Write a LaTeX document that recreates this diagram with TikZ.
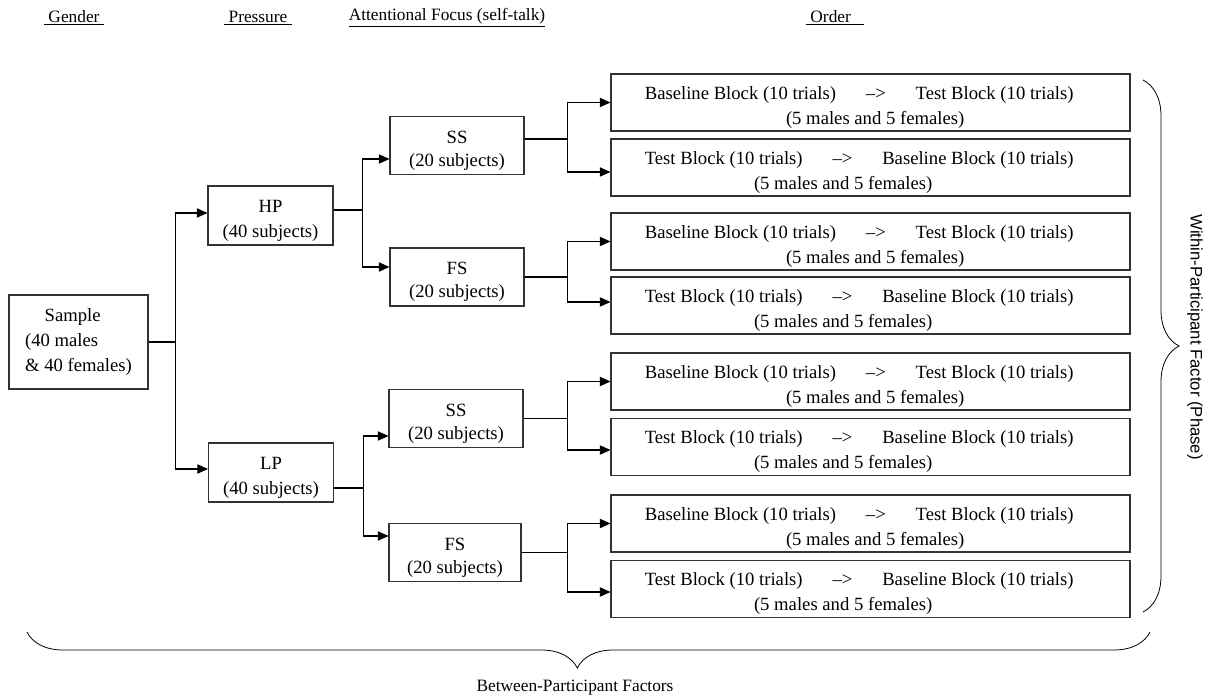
\documentclass[tikz,border=0pt]{standalone}
\usepackage{fontspec}
\setmainfont{Liberation Serif}
\newfontfamily\sidefont{Liberation Sans}
\usepackage{tikz}
\usetikzlibrary{arrows.meta,calc,decorations.pathreplacing}

\newcommand{\padtop}{\rule{0pt}{17pt}}
\newcommand{\btorder}{\padtop Baseline Block (10 trials)\hspace{1.6em}--{}>\hspace{1.6em}Test Block (10 trials)\hspace{17pt}\null\\\hspace*{7pt}(5 males and 5 females)}
\newcommand{\tborder}{\padtop Test Block (10 trials)\hspace{1.6em}--{}>\hspace{1.6em}Baseline Block (10 trials)\hspace{17pt}\null\\(5 males and 5 females)\hspace{41pt}\null}

\begin{document}
\begin{tikzpicture}[x=0.75pt,y=-0.75pt,
  box/.style={draw=black!80,line width=0.8pt,inner sep=1pt,align=center,font=\fontsize{14pt}{18.75pt}\selectfont},
  groupbox/.style={box,font=\fontsize{14pt}{17.25pt}\selectfont,minimum width=100.5pt,minimum height=43.5pt},
  pressbox/.style={box,minimum width=93.75pt,minimum height=44.25pt},
  orderbox/.style={box,minimum width=389.25pt,minimum height=42.75pt},
  head/.style={font=\fontsize{13pt}{15pt}\selectfont},
  link/.style={line width=0.8pt},
  arr/.style={link,-{Triangle[length=8pt,width=7pt]}}]

\useasboundingbox (0,0) rectangle (1211,698);

% column headings
\node[head] (hgender) at (74,18) {\underline{\ Gender\ }};
\node[head] (hpressure) at (258,18) {\underline{\ Pressure\ }};
\node[head] (hfocus) at (447,18) {\underline{Attentional Focus (self-talk)}};
\node[head] (horder) at (835,18) {\underline{\ Order\ \ \ }};

% between-participant groups
\node[box,minimum width=104.25pt,minimum height=70.5pt,align=left] (sample) at (78.5,342) {\hspace*{1.05em}Sample\\(40 males\\\& 40 females)};
\node[pressbox] (hp) at (270.5,215.5) {\padtop HP\\(40 subjects)};
\node[pressbox] (lp) at (271,472.5) {\padtop LP\\(40 subjects)};
\node[groupbox] (ss1) at (457,145.5) {\padtop SS\\(20 subjects)};
\node[groupbox] (fs1) at (457,277) {\padtop FS\\(20 subjects)};
\node[groupbox] (ss2) at (456,418.5) {\padtop SS\\(20 subjects)};
\node[groupbox,minimum width=99pt] (fs2) at (455,552.5) {\padtop FS\\(20 subjects)};

% block order
\node[orderbox] (o1) at (870.5,102.5) {\btorder};
\node[orderbox] (o2) at (870.5,167.5) {\tborder};
\node[orderbox] (o3) at (870.5,241.5) {\btorder};
\node[orderbox] (o4) at (870.5,305.5) {\tborder};
\node[orderbox] (o5) at (870.5,381.5) {\btorder};
\node[orderbox] (o6) at (870.5,447) {\tborder};
\node[orderbox] (o7) at (870.5,523.5) {\btorder};
\node[orderbox] (o8) at (870.5,589) {\tborder};

% connectors
\draw[link] (sample.east) -- ++(27,0) coordinate (f0);
\draw[arr] (f0) |- ($(hp.west)+(0,-2.5)$);
\draw[arr] (f0) |- ($(lp.west)+(0,-3.5)$);

\draw[link] ($(hp.east)+(0,-5.5)$) -- ++(29,0) coordinate (f1);
\draw[arr] (f1) |- ($(ss1.west)+(0,13.5)$);
\draw[arr] (f1) |- ($(fs1.west)+(0,-10)$);

\draw[link] ($(lp.east)+(0,15.5)$) -- ++(29,0) coordinate (f2);
\draw[arr] (f2) |- ($(ss2.west)+(0,17.5)$);
\draw[arr] (f2) |- ($(fs2.west)+(0,-16.5)$);

\draw[link] ($(ss1.east)+(0,-6.5)$) -- ++(43,0) coordinate (f3);
\draw[arr] (f3) |- (o1.west);
\draw[arr] (f3) |- ($(o2.west)+(0,4.5)$);

\draw[link] (fs1.east) -- ++(43,0) coordinate (f4);
\draw[arr] (f4) |- (o3.west);
\draw[arr] (f4) |- ($(o4.west)+(0,-3.5)$);

\draw[link] (ss2.east) -- ++(44,0) coordinate (f5);
\draw[arr] (f5) |- (o5.west);
\draw[arr] (f5) |- ($(o6.west)+(0,3)$);

\draw[link] (fs2.east) -- ++(46,0) coordinate (f6);
\draw[arr] (f6) |- (o7.west);
\draw[arr] (f6) |- ($(o8.west)+(0,3)$);

% braces
\coordinate (wtop) at (1143,80);
\coordinate (wbot) at (1143,612);
\draw[line width=0.6pt,decorate,decoration={brace,amplitude=27pt}] (wtop) -- (wbot);
\node[rotate=-90,font=\sidefont\fontsize{12.5pt}{15pt}\selectfont] (within) at (1195,337) {Within-Participant Factor (Phase)};

\coordinate (bright) at (1150,632);
\coordinate (bleft) at (27,632);
\draw[line width=0.6pt,decorate,decoration={brace,amplitude=27pt,aspect=0.51}] (bright) -- (bleft);
\node[font=\fontsize{13pt}{15pt}\selectfont] (between) at (575,688) {Between-Participant Factors};

\end{tikzpicture}
\end{document}
